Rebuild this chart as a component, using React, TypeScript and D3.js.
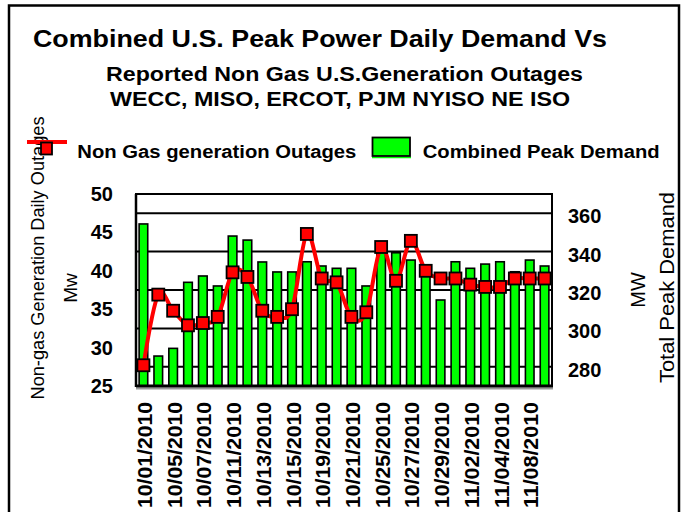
import React from 'react';
import * as d3 from 'd3';

const dates = [
  '10/01/2010', '10/04/2010', '10/05/2010', '10/06/2010', '10/07/2010', '10/08/2010',
  '10/11/2010', '10/12/2010', '10/13/2010', '10/14/2010', '10/15/2010',
  '10/18/2010', '10/19/2010', '10/20/2010', '10/21/2010', '10/22/2010',
  '10/25/2010', '10/26/2010', '10/27/2010', '10/28/2010', '10/29/2010',
  '11/01/2010', '11/02/2010', '11/03/2010', '11/04/2010', '11/05/2010',
  '11/08/2010', '11/09/2010',
];

// Combined peak demand (right axis)
const peakDemand = [
  354.4, 285.6, 289.6, 324, 327.3, 322.1,
  348.1, 346, 334.6, 329.4, 329.4,
  334.7, 332.5, 331.3, 331.3, 322.1,
  341, 339.4, 335.6, 330.5, 314.8,
  334.7, 331.3, 333.5, 334.7, 329.5,
  335.6, 332.5,
];

// Non gas generation outages (left axis)
const outages = [
  27.7, 36.9, 34.8, 32.9, 33.2, 34.0,
  39.8, 39.2, 34.8, 34.0, 35.0,
  44.8, 39.0, 38.5, 34.0, 34.6,
  43.1, 38.7, 43.9, 40.0, 39.0,
  39.0, 38.2, 37.9, 37.9, 39.0,
  39.0, 39.0,
];

const leftTicks = [25, 30, 35, 40, 45, 50];
const rightTicks = [280, 300, 320, 340, 360];

const FONT = '"Liberation Sans", Arial, sans-serif';

export default function App() {
  const W = 683;
  const H = 512;
  const plot = { left: 136, right: 552, top: 194, bottom: 386 };

  const x = d3.scaleBand<string>().domain(dates).range([plot.left, plot.right]).padding(0);
  const yL = d3.scaleLinear().domain([25, 50]).range([plot.bottom, plot.top]);
  const yR = d3.scaleLinear().domain([270, 370]).range([plot.bottom, plot.top]);

  const cx = (d: string) => (x(d) as number) + x.bandwidth() / 2;
  const barW = x.bandwidth() * 0.58;

  const line = d3
    .line<number>()
    .x((_, i) => cx(dates[i]))
    .y((v) => yL(v))
    .curve(d3.curveCardinal.tension(0));

  return (
    <svg
      width={W}
      height={H}
      style={{ position: 'absolute', left: 0, top: 0, background: '#fff' }}
      fontFamily={FONT}
    >
      {/* outer frame */}
      <rect x={9} y={5.5} width={670} height={530} fill="#fff" stroke="#000" strokeWidth={2.5} />

      {/* titles */}
      <text x={33} y={47} fontSize={24} fontWeight="bold" textLength={574} lengthAdjust="spacingAndGlyphs">
        Combined U.S. Peak Power Daily Demand Vs
      </text>
      <text x={106} y={80.5} fontSize={20} fontWeight="bold" textLength={477} lengthAdjust="spacingAndGlyphs">
        Reported Non Gas U.S.Generation Outages
      </text>
      <text x={110} y={106} fontSize={20} fontWeight="bold" textLength={460} lengthAdjust="spacingAndGlyphs">
        WECC, MISO, ERCOT, PJM NYISO NE ISO
      </text>

      {/* left axis title */}
      <text
        transform="translate(38,258) rotate(-90)"
        textAnchor="middle"
        dominantBaseline="central"
        fontSize={18}
        textLength={283}
        lengthAdjust="spacingAndGlyphs"
      >
        Non-gas Generation Daily Outages
      </text>
      <text transform="translate(70,288) rotate(-90)" textAnchor="middle" dominantBaseline="central" fontSize={19}>
        Mw
      </text>

      {/* right axis title */}
      <text transform="translate(638,290) rotate(-90)" textAnchor="middle" dominantBaseline="central" fontSize={20}>
        MW
      </text>
      <text
        transform="translate(667,287.5) rotate(-90)"
        textAnchor="middle"
        dominantBaseline="central"
        fontSize={20}
        textLength={191}
        lengthAdjust="spacingAndGlyphs"
      >
        Total Peak Demand
      </text>

      {/* legend */}
      <line x1={27} x2={67} y1={142} y2={142} stroke="#ff0000" strokeWidth={4} />
      <rect x={41} y={142.5} width={11} height={12} fill="#ff0000" stroke="#000" strokeWidth={1.8} />
      <text x={77.3} y={158} fontSize={18} fontWeight="bold" textLength={279} lengthAdjust="spacingAndGlyphs">
        Non Gas generation Outages
      </text>
      <line x1={372} x2={411} y1={157.5} y2={157.5} stroke="#00ff00" strokeWidth={1.5} />
      <rect x={372.5} y={137.5} width={37.5} height={18.5} fill="#00ff00" stroke="#000" strokeWidth={1.8} />
      <text x={422.7} y={157.5} fontSize={18} fontWeight="bold" textLength={237} lengthAdjust="spacingAndGlyphs">
        Combined Peak Demand
      </text>

      {/* plot area */}
      <line x1={plot.left} x2={plot.right + 1} y1={plot.bottom + 2.5} y2={plot.bottom + 2.5} stroke="#999" strokeWidth={2} />
      <rect
        x={plot.left}
        y={plot.top}
        width={plot.right - plot.left}
        height={plot.bottom - plot.top}
        fill="#fff"
        stroke="#000"
        strokeWidth={2}
      />
      {rightTicks.map((t) => (
        <line key={t} x1={plot.left} x2={plot.right} y1={yR(t)} y2={yR(t)} stroke="#000" strokeWidth={2} />
      ))}

      {/* bars */}
      {dates.map((d, i) => (
        <rect
          key={d}
          x={cx(d) - barW / 2}
          y={yR(peakDemand[i])}
          width={barW}
          height={plot.bottom - yR(peakDemand[i])}
          fill="#00ff00"
          stroke="#000"
          strokeWidth={1.6}
        />
      ))}

      {/* axis lines */}
      <line x1={plot.left} x2={plot.left} y1={plot.top} y2={plot.bottom + 1} stroke="#000" strokeWidth={2.5} />
      <line x1={plot.left} x2={plot.right + 1} y1={plot.bottom} y2={plot.bottom} stroke="#000" strokeWidth={3} />

      {/* outages line */}
      <path d={line(outages) || ''} fill="none" stroke="#ff0000" strokeWidth={4} strokeLinejoin="round" />
      {dates.map((d, i) => (
        <rect
          key={'m' + d}
          x={cx(d) - 6}
          y={yL(outages[i]) - 6}
          width={12}
          height={12}
          fill="#ff0000"
          stroke="#000"
          strokeWidth={1.8}
        />
      ))}

      {/* left ticks */}
      {leftTicks.map((t) => (
        <text key={t} x={113} y={yL(t)} textAnchor="end" dominantBaseline="central" fontSize={20} fontWeight="bold">
          {t}
        </text>
      ))}

      {/* right ticks */}
      {rightTicks.map((t) => (
        <text key={t} x={568} y={yR(t) + 3} dominantBaseline="central" fontSize={20} fontWeight="bold">
          {t}
        </text>
      ))}

      {/* x labels (every other date) */}
      {dates.map((d, i) =>
        i % 2 === 0 ? (
          <text
            key={'x' + d}
            transform={`translate(${cx(d) + 1.5},402) rotate(-90)`}
            textAnchor="end"
            dominantBaseline="central"
            fontSize={20}
            fontWeight="bold"
            textLength={106}
            lengthAdjust="spacingAndGlyphs"
          >
            {d}
          </text>
        ) : null
      )}
    </svg>
  );
}
